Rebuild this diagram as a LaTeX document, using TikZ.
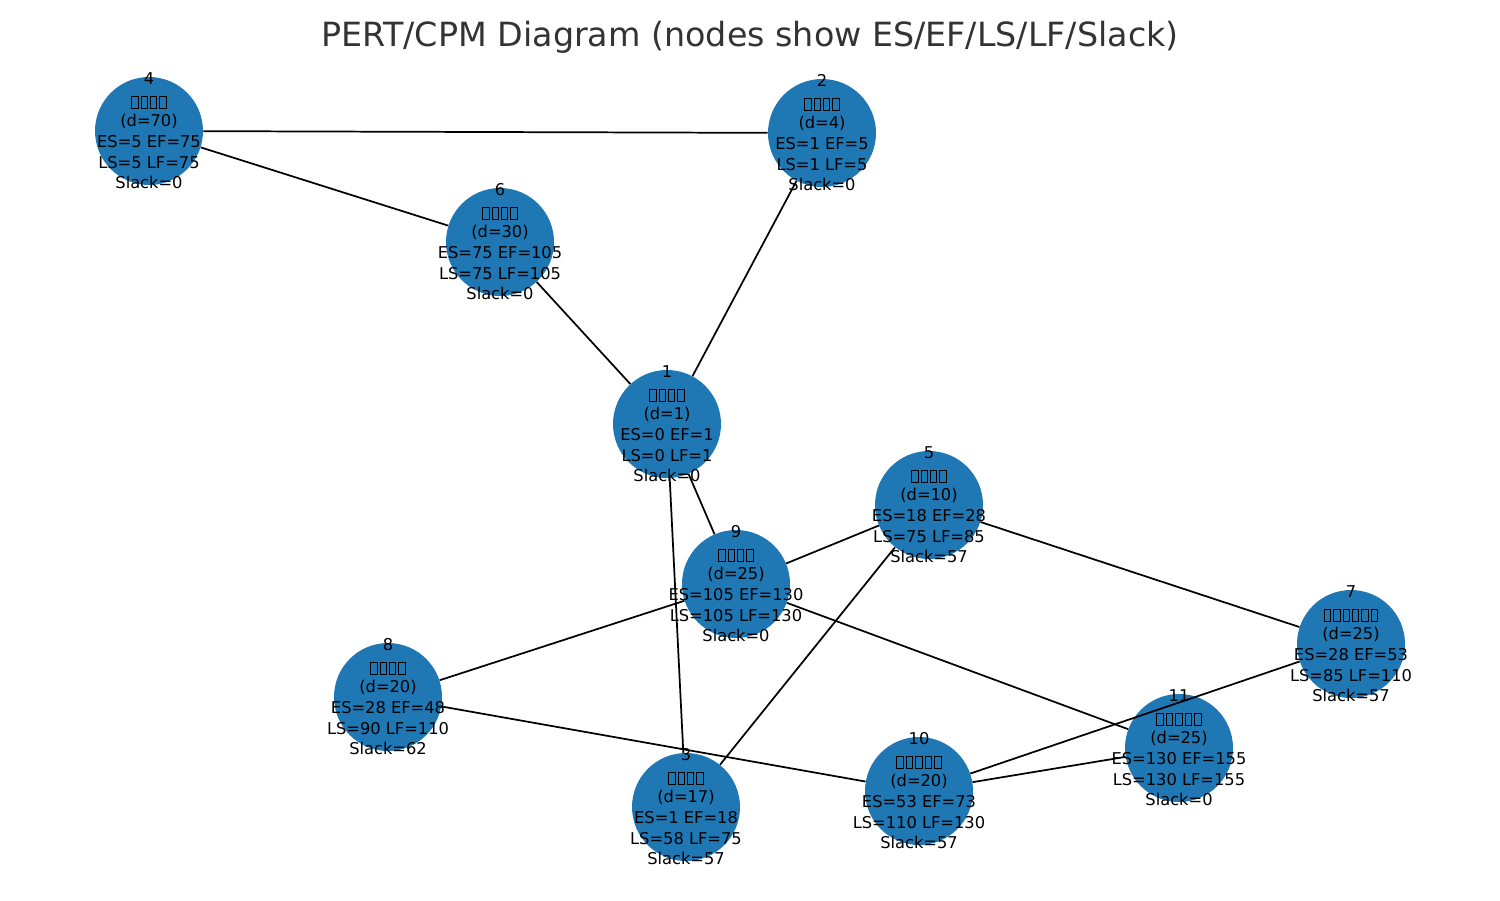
\documentclass[tikz,border=0pt]{standalone}
\usepackage{fontspec}
\setmainfont{DejaVu Sans}
\definecolor{nodeblue}{HTML}{1F77B4}
\definecolor{titlegray}{HTML}{333333}
\setlength{\fboxsep}{0pt}
\setlength{\fboxrule}{0.75pt}
\newcommand{\tf}{\kern0.75pt\raisebox{-1.9pt}{\fbox{\rule{0pt}{8.2pt}\rule{4.1pt}{0pt}}}\kern0.75pt}
\begin{document}
\begin{tikzpicture}[x=0.75pt,y=-0.75pt,
  circ/.style={circle,fill=nodeblue,minimum size=81pt,inner sep=0pt},
  lbl/.style={align=center,font=\fontsize{12.2}{15.6}\selectfont,inner sep=0pt,text=black},
  edge/.style={line width=1.3pt,draw=black}]
\useasboundingbox (0,0) rectangle (1500,900);
\node[font=\fontsize{25}{30}\selectfont,text=titlegray,inner sep=0pt] (title) at (750,37) {PERT/CPM Diagram (nodes show ES/EF/LS/LF/Slack)};
% circles
\node[circ] (n1) at (667,424) {};
\node[circ] (n2) at (822,133) {};
\node[circ] (n3) at (686,807) {};
\node[circ] (n4) at (149,131) {};
\node[circ] (n5) at (929,505) {};
\node[circ] (n6) at (500,242) {};
\node[circ] (n7) at (1351,644) {};
\node[circ] (n8) at (388,697) {};
\node[circ] (n9) at (736,584) {};
\node[circ] (n10) at (919,791) {};
\node[circ] (n11) at (1179,748) {};
% edges
\draw[edge] (n4) -- (n2);
\draw[edge] (n4) -- (n6);
\draw[edge] (n6) -- (n1);
\draw[edge] (n1) -- (n2);
\draw[edge] (n1) -- (n9);
\draw[edge] (n1) -- (n3);
\draw[edge] (n5) -- (n9);
\draw[edge] (n5) -- (n7);
\draw[edge] (n5) -- (n3);
\draw[edge] (n9) -- (n8);
\draw[edge] (n9) -- (n11);
\draw[edge] (n8) -- (n10);
\draw[edge] (n10) -- (n7);
\draw[edge] (n10) -- (n11);
% labels
\node[lbl] (l1) at (n1.center) {1\\\tf\tf\tf\tf\\(d=1)\\ES=0 EF=1\\LS=0 LF=1\\Slack=0};
\node[lbl] (l2) at (n2.center) {2\\\tf\tf\tf\tf\\(d=4)\\ES=1 EF=5\\LS=1 LF=5\\Slack=0};
\node[lbl] (l3) at (n3.center) {3\\\tf\tf\tf\tf\\(d=17)\\ES=1 EF=18\\LS=58 LF=75\\Slack=57};
\node[lbl] (l4) at (n4.center) {4\\\tf\tf\tf\tf\\(d=70)\\ES=5 EF=75\\LS=5 LF=75\\Slack=0};
\node[lbl] (l5) at (n5.center) {5\\\tf\tf\tf\tf\\(d=10)\\ES=18 EF=28\\LS=75 LF=85\\Slack=57};
\node[lbl] (l6) at (n6.center) {6\\\tf\tf\tf\tf\\(d=30)\\ES=75 EF=105\\LS=75 LF=105\\Slack=0};
\node[lbl] (l7) at (n7.center) {7\\\tf\tf\tf\tf\tf\tf\\(d=25)\\ES=28 EF=53\\LS=85 LF=110\\Slack=57};
\node[lbl] (l8) at (n8.center) {8\\\tf\tf\tf\tf\\(d=20)\\ES=28 EF=48\\LS=90 LF=110\\Slack=62};
\node[lbl] (l9) at (n9.center) {9\\\tf\tf\tf\tf\\(d=25)\\ES=105 EF=130\\LS=105 LF=130\\Slack=0};
\node[lbl] (l10) at (n10.center) {10\\\tf\tf\tf\tf\tf\\(d=20)\\ES=53 EF=73\\LS=110 LF=130\\Slack=57};
\node[lbl] (l11) at (n11.center) {11\\\tf\tf\tf\tf\tf\\(d=25)\\ES=130 EF=155\\LS=130 LF=155\\Slack=0};
\end{tikzpicture}
\end{document}
